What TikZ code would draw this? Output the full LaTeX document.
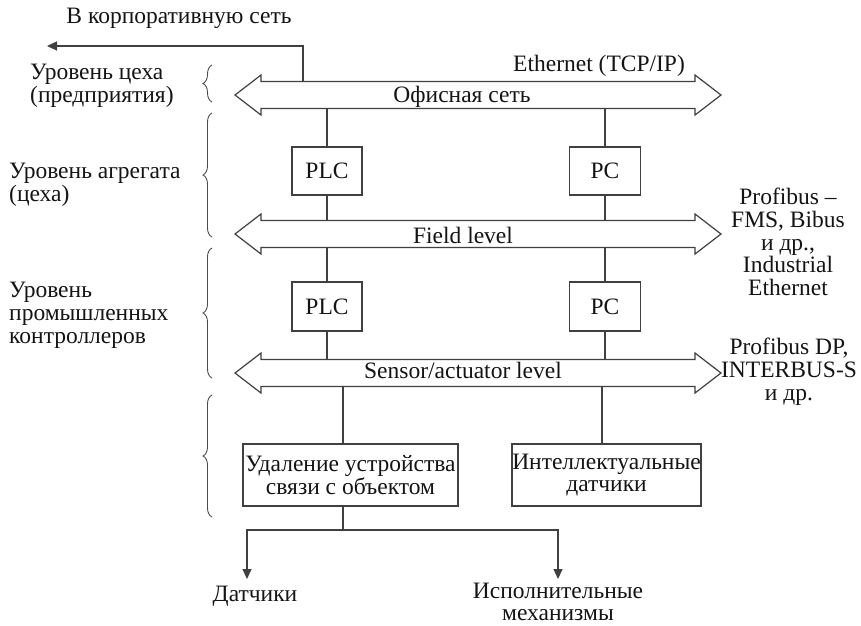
\documentclass[tikz,border=0pt]{standalone}
\usepackage{fontspec}
\setmainfont{Liberation Serif}
\usetikzlibrary{arrows.meta,decorations.pathreplacing}

% double-headed bus arrow centred on y = #1
\newcommand\busarrow[1]{%
  \draw[ln, fill=white] (235,#1) -- (261,{#1-20}) -- (261,{#1-13.5}) -- (695,{#1-13.5})
    -- (695,{#1-20}) -- (721,#1) -- (695,{#1+20}) -- (695,{#1+13.5})
    -- (261,{#1+13.5}) -- (261,{#1+20}) -- cycle;}

\begin{document}
\begin{tikzpicture}[x=1pt,y=-1pt,
  ln/.style={line width=1.2pt, draw=black!75},
  lbl/.style={font=\fontsize{23.5}{22.8}\selectfont, inner sep=0pt, text=black!92},
  box/.style={ln, lbl, draw, fill=white, align=center},
  shaft/.style={minimum width=434pt, minimum height=27pt, inner sep=0pt, draw=none},
  brc/.style={decorate, decoration={brace, amplitude=9pt}, line width=0.9pt, draw=black!70},
  tip/.style={-{Triangle[length=10pt,width=9pt]}}
]
\useasboundingbox (0,0) rectangle (861,625);

% network buses
\busarrow{95}
\busarrow{234}
\busarrow{373}
\node[shaft] (office) at (478,95) {};
\node[shaft] (field)  at (478,234) {};
\node[shaft] (sensor) at (478,373) {};
\node[lbl] (officet) at (462,97)  {Офисная сеть};
\node[lbl] (fieldt)  at (463,235) {Field level};
\node[lbl] (sensort) at (463,370) {Sensor/actuator level};

% devices
\node[box, minimum width=70pt, minimum height=48pt] (plc1) at (327,171) {PLC};
\node[box, minimum width=71pt, minimum height=48pt] (pc1)  at (605,171) {PC};
\node[box, minimum width=70pt, minimum height=49pt] (plc2) at (327,306.5) {PLC};
\node[box, minimum width=71pt, minimum height=49pt] (pc2)  at (605,306.5) {PC};
\node[box, minimum width=215pt, minimum height=62pt] (uso) at (350.5,475)
  {Удаление устройства\\связи с объектом};
\node[box, minimum width=189pt, minimum height=62pt] (smart) at (606.5,475)
  {Интеллектуальные\\датчики};

% vertical links between buses and devices
\draw[ln] (plc1 |- office.south) -- (plc1.north);
\draw[ln] (plc1.south) -- (plc1 |- field.north);
\draw[ln] (pc1 |- office.south) -- (pc1.north);
\draw[ln] (pc1.south) -- (pc1 |- field.north);
\draw[ln] (plc2 |- field.south) -- (plc2.north);
\draw[ln] (plc2.south) -- (plc2 |- sensor.north);
\draw[ln] (pc2 |- field.south) -- (pc2.north);
\draw[ln] (pc2.south) -- (pc2 |- sensor.north);
\draw[ln] ([xshift=-7.5pt]uso.north |- sensor.south) -- ([xshift=-7.5pt]uso.north);
\draw[ln] ([xshift=-4.5pt]smart.north |- sensor.south) -- ([xshift=-4.5pt]smart.north);

% uplink to the corporate network
\coordinate (cx) at (303,0);
\coordinate (corp) at (47,46);
\draw[ln, tip] (office.north -| cx) |- (corp);
\node[lbl] (corpt) at (179,18) {В корпоративную сеть};
\node[lbl] (eth) at (599,66) {Ethernet (TCP/IP)};

% outputs to field devices
\coordinate (split) at (343,530);
\coordinate (s1) at (247,579);
\coordinate (s2) at (558,579);
\draw[ln] ([xshift=-7.5pt]uso.south) -- (split);
\draw[ln, tip] (split) -| (s1);
\draw[ln, tip] (split) -| (s2);
\node[lbl] (dat) at (255,596) {Датчики};
\node[lbl, align=center] (act) at (558,602) {Исполнительные\\механизмы};

% protocol notes
\node[lbl, align=center] (p1) at (788,242)
  {Profibus –\\FMS, Bibus\\и др.,\\Industrial\\Ethernet};
\node[lbl, align=center] (p2) at (789,372)
  {Profibus DP,\\INTERBUS-S\\и др.};

% hierarchy levels
\node[lbl, align=left, anchor=west] (l1) at (30,86) {Уровень цеха\\(предприятия)};
\node[lbl, align=left, anchor=west] (l2) at (9,185) {Уровень агрегата\\(цеха)};
\node[lbl, align=left, anchor=west] (l3) at (9,315) {Уровень\\промышленных\\контроллеров};
\draw[brc] (212,102) -- (212,65);
\draw[brc] (212,237) -- (212,113);
\draw[brc] (212,378) -- (212,248);
\draw[brc] (212,517) -- (212,395);
\end{tikzpicture}
\end{document}
